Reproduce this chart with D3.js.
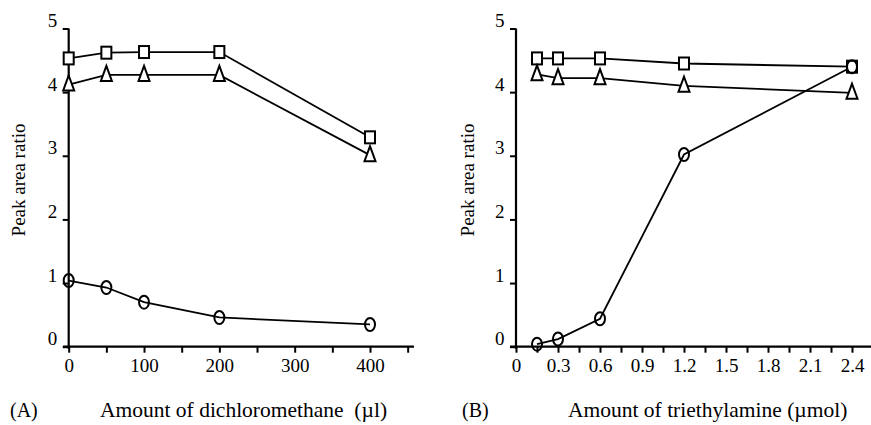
<!DOCTYPE html>
<html>
<head>
<meta charset="utf-8">
<script src="https://cdn.jsdelivr.net/npm/d3@7"></script>
<style>
  body { margin: 0; background: #fff; }
  svg text { font-family: "Liberation Serif", "Times New Roman", serif; fill: #000; }
</style>
</head>
<body>
<svg id="chart"></svg>
<script>
var w = 871, h = 425;

// panel A : dichloromethane
var dcmAmount = [0, 50, 100, 200, 400];
var dcmSquare = [4.53, 4.62, 4.63, 4.63, 3.29];
var dcmTriangle = [4.12, 4.27, 4.27, 4.27, 3.01];
var dcmCircle = [1.04, 0.93, 0.70, 0.46, 0.35];
var dcmTicks = [0, 50, 100, 150, 200, 250, 300, 350, 400, 450];
var dcmLabels = [0, 100, 200, 300, 400];

// panel B : triethylamine
var teaAmount = [0.15, 0.3, 0.6, 1.2, 2.4];
var teaSquare = [4.53, 4.53, 4.53, 4.45, 4.40];
var teaTriangle = [4.28, 4.22, 4.22, 4.10, 3.99];
var teaCircle = [0.04, 0.12, 0.44, 3.02, 4.40];
var teaTicks = [0, 0.15, 0.3, 0.45, 0.6, 0.75, 0.9, 1.05, 1.2, 1.35, 1.5, 1.65, 1.8, 1.95, 2.1, 2.25, 2.4, 2.55];
var teaLabels = [0, 0.3, 0.6, 0.9, 1.2, 1.5, 1.8, 2.1, 2.4];

var yTicks = [0, 1, 2, 3, 4, 5];

var font = "'Liberation Serif', 'Times New Roman', serif";

var svg = d3.select("#chart")
    .attr("width", w)
    .attr("height", h)
    .attr("font-family", font);

function panel(opt) {
    var g = svg.append("g");
    var x = d3.scaleLinear().domain(opt.xDomain).range(opt.xRange);
    var y = d3.scaleLinear().domain([0, 5]).range([346.7, 28.5]);

    // x axis
    var xAxis = d3.axisBottom(x)
        .tickValues(opt.ticks)
        .tickSize(6)
        .tickFormat(function(d) {
            return opt.labels.some(function(l) { return Math.abs(l - d) < 1e-9; }) ? opt.fmt(d) : "";
        });
    var gx = g.append("g")
        .attr("transform", "translate(0," + y(0) + ")")
        .call(xAxis)
        .attr("font-family", font);
    gx.select(".domain").remove();
    gx.append("line")
        .attr("x1", opt.xLine[0]).attr("x2", opt.xLine[1])
        .attr("stroke", "#000").attr("stroke-width", 2.2);
    gx.selectAll(".tick line").attr("stroke", "#000").attr("stroke-width", 2);
    gx.selectAll(".tick text")
        .attr("y", 25.5)
        .attr("dy", 0)
        .style("font-size", "19px");

    // y axis
    var yAxis = d3.axisLeft(y).tickValues(yTicks).tickSize(6).tickFormat(d3.format("d"));
    var gy = g.append("g")
        .attr("transform", "translate(" + x(0) + ",0)")
        .call(yAxis)
        .attr("font-family", font);
    gy.select(".domain").remove();
    gy.append("line")
        .attr("y1", y(5)).attr("y2", y(0) + 2)
        .attr("stroke", "#000").attr("stroke-width", 2.2);
    gy.selectAll(".tick line").attr("stroke", "#000").attr("stroke-width", 2);
    gy.selectAll(".tick text")
        .attr("x", -11.5)
        .attr("dy", -2)
        .style("font-size", "19px");

    // axis titles
    g.append("text")
        .attr("transform", "translate(" + opt.yTitleX + ",180) rotate(-90)")
        .attr("text-anchor", "middle")
        .style("font-size", "19px")
        .text("Peak area ratio");
    g.append("text")
        .attr("x", opt.tagX).attr("y", 417)
        .style("font-size", "20px")
        .text(opt.tag);
    g.append("text")
        .attr("x", opt.titleX).attr("y", 417)
        .style("font-size", "21.5px")
        .text(opt.title);

    var line = d3.line()
        .x(function(d) { return x(d[0]); })
        .y(function(d) { return y(d[1]); });

    var series = [
        {vals: opt.square, shape: "square"},
        {vals: opt.triangle, shape: "triangle"},
        {vals: opt.circle, shape: "circle"}
    ];

    series.forEach(function(s) {
        var pts = opt.amount.map(function(a, i) { return [a, s.vals[i]]; });
        g.append("path")
            .datum(pts)
            .attr("d", line)
            .attr("fill", "none")
            .attr("stroke", "#000")
            .attr("stroke-width", 1.8);
    });

    series.forEach(function(s) {
        var pts = opt.amount.map(function(a, i) { return [a, s.vals[i]]; });
        var m = g.append("g").selectAll("g")
            .data(pts)
            .enter()
            .append("g")
            .attr("transform", function(d) { return "translate(" + x(d[0]) + "," + y(d[1]) + ")"; });
        if (s.shape == "square") {
            m.append("rect")
                .attr("x", -5).attr("y", -6).attr("width", 10).attr("height", 12)
                .attr("fill", "#fff").attr("stroke", "#000").attr("stroke-width", 2);
        } else if (s.shape == "triangle") {
            m.append("path")
                .attr("d", "M0,-9L5.5,6L-5.5,6Z")
                .attr("fill", "#fff").attr("stroke", "#000").attr("stroke-width", 2);
        } else {
            m.append("ellipse")
                .attr("rx", 5).attr("ry", 6.5)
                .attr("fill", "none").attr("stroke", "#000").attr("stroke-width", 2);
        }
    });
}

panel({
    xDomain: [0, 400], xRange: [68.7, 370],
    xLine: [63, 414],
    ticks: dcmTicks, labels: dcmLabels, fmt: d3.format("d"),
    amount: dcmAmount, square: dcmSquare, triangle: dcmTriangle, circle: dcmCircle,
    yTitleX: 25, tagX: 10, tag: "(A)",
    titleX: 100, title: "Amount of dichloromethane\u00a0\u00a0(\u00b5l)"
});

panel({
    xDomain: [0, 2.4], xRange: [516, 852],
    xLine: [510, 871],
    ticks: teaTicks, labels: teaLabels, fmt: function(d) { return d == 0 ? "0" : d3.format(".1f")(d); },
    amount: teaAmount, square: teaSquare, triangle: teaTriangle, circle: teaCircle,
    yTitleX: 474, tagX: 462, tag: "(B)",
    titleX: 568, title: "Amount of triethylamine (\u00b5mol)"
});
</script>
</body>
</html>
